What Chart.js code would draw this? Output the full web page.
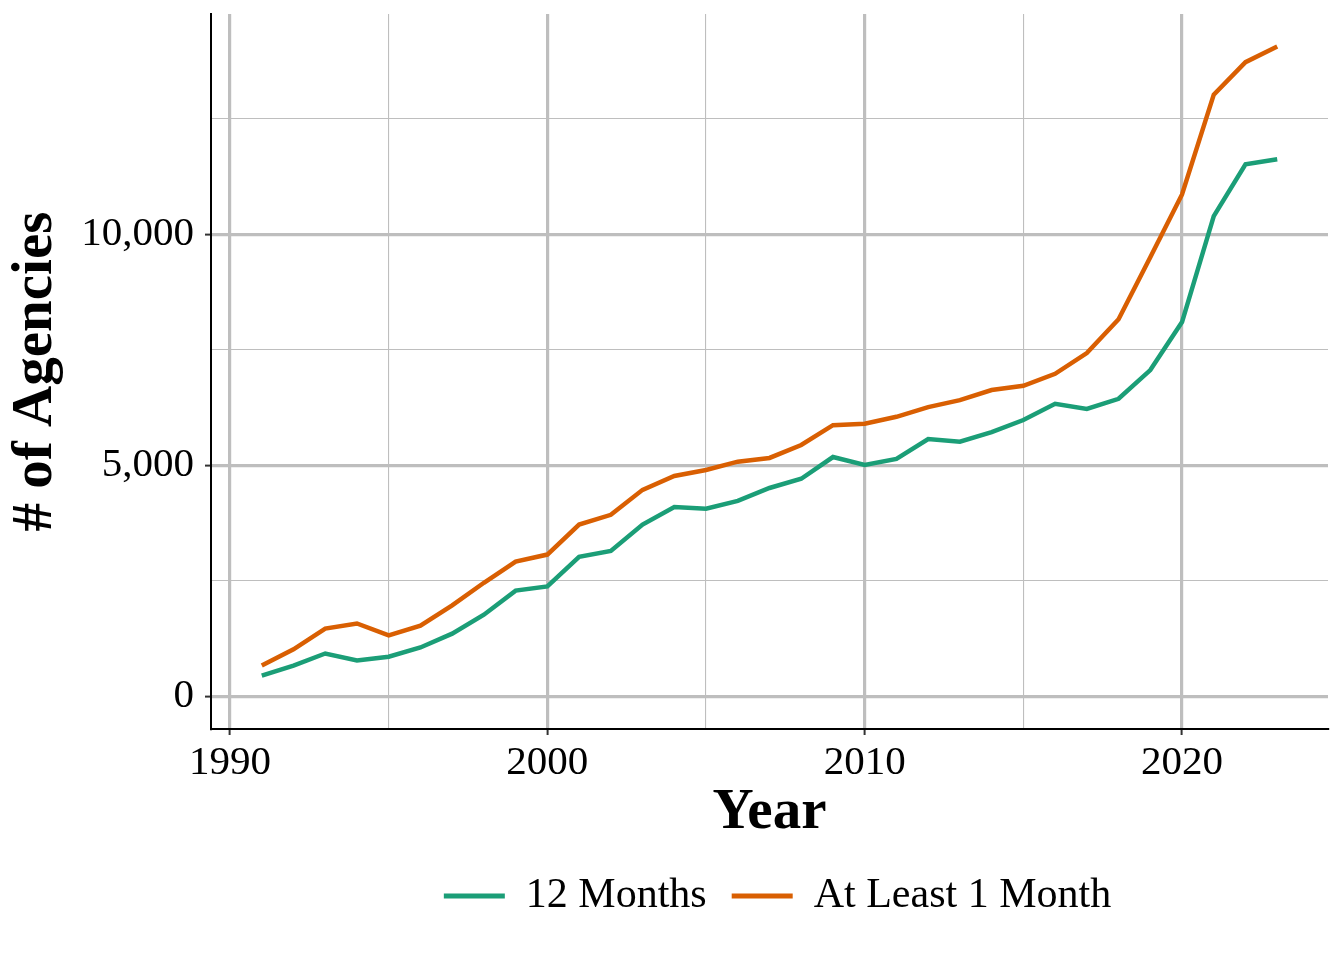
<!DOCTYPE html>
<html>
<head>
<meta charset="utf-8">
<script src="https://cdn.jsdelivr.net/npm/chart.js@4"></script>
<style>
  html, body { margin: 0; padding: 0; background: #ffffff; }
  #chart { display: block; }
</style>
</head>
<body>
<canvas id="chart" width="1344" height="960"></canvas>
<script>
const years = [1991, 1992, 1993, 1994, 1995, 1996, 1997, 1998, 1999, 2000,
  2001, 2002, 2003, 2004, 2005, 2006, 2007, 2008, 2009, 2010,
  2011, 2012, 2013, 2014, 2015, 2016, 2017, 2018, 2019, 2020,
  2021, 2022, 2023];

const twelveMonths = [450, 670, 930, 780, 860, 1060, 1360, 1770, 2290, 2380,
  3020, 3150, 3720, 4100, 4060, 4230, 4510, 4710, 5180, 5010,
  5140, 5570, 5510, 5720, 5980, 6330, 6220, 6440, 7060, 8100,
  10390, 11510, 11620];

const atLeastOneMonth = [670, 1020, 1470, 1580, 1320, 1530, 1970, 2460, 2920, 3070,
  3720, 3930, 4470, 4770, 4900, 5080, 5160, 5440, 5870, 5900,
  6050, 6260, 6410, 6630, 6720, 6980, 7430, 8160, 9500, 10860,
  13020, 13720, 14060];

const seriesNames = ["12 Months", "At Least 1 Month"];
const seriesColors = ["#1B9E77", "#D95F02"];

const xTicks = [1990, 1995, 2000, 2005, 2010, 2015, 2020];
const yTicks = [0, 2500, 5000, 7500, 10000, 12500];

const serif = "'Liberation Serif', 'Times New Roman', Times, serif";
Chart.defaults.font.family = serif;
Chart.defaults.color = "#000000";

function toPoints(vals) {
  return years.map(function (yr, i) { return { x: yr, y: vals[i] }; });
}

// ggplot default expansion: 5% of the data range each side
const xMin = years[0] - (years[years.length - 1] - years[0]) * 0.05;
const xMax = years[years.length - 1] + (years[years.length - 1] - years[0]) * 0.05;
const yTop = Math.max.apply(null, atLeastOneMonth);
const yMin = -yTop * 0.05;
const yMax = yTop * 1.05;

function isMajor(v, step) { return Math.abs(v % step) < 1e-6; }

const gridColor = "#BEBEBE";

// nudge the legend a little right so it sits where ggplot put it
const legendShift = {
  id: "legendShift",
  afterLayout: function (chart) {
    if (chart.legend) {
      chart.legend.left += 8;
      chart.legend.right += 8;
    }
  }
};

new Chart(document.getElementById("chart"), {
  type: "line",
  data: {
    datasets: [
      {
        label: seriesNames[0],
        data: toPoints(twelveMonths),
        borderColor: seriesColors[0],
        backgroundColor: seriesColors[0],
        borderWidth: 4.5,
        pointRadius: 0,
        tension: 0
      },
      {
        label: seriesNames[1],
        data: toPoints(atLeastOneMonth),
        borderColor: seriesColors[1],
        backgroundColor: seriesColors[1],
        borderWidth: 4.5,
        pointRadius: 0,
        tension: 0
      }
    ]
  },
  plugins: [legendShift],
  options: {
    responsive: false,
    animation: false,
    layout: { padding: { top: 14, right: 16, left: 0, bottom: 33 } },
    plugins: {
      tooltip: { enabled: false },
      legend: {
        position: "bottom",
        fullSize: false,
        labels: {
          usePointStyle: true,
          pointStyle: "line",
          pointStyleWidth: 61,
          padding: 25,
          color: "#000000",
          font: { size: 42, family: serif },
          generateLabels: function (chart) {
            const items = Chart.defaults.plugins.legend.labels.generateLabels(chart);
            items.forEach(function (it) { it.lineWidth = 5; it.pointStyle = "line"; });
            return items;
          }
        }
      }
    },
    scales: {
      x: {
        type: "linear",
        min: xMin,
        max: xMax,
        afterBuildTicks: function (scale) {
          scale.ticks = xTicks.map(function (v) { return { value: v }; });
        },
        afterFit: function (scale) {
          scale.height = 121;
          scale.paddingLeft = 0;
          scale.paddingRight = 0;
        },
        border: { display: true, color: "#000000", width: 2 },
        grid: {
          color: gridColor,
          lineWidth: function (ctx) { return isMajor(ctx.tick.value, 10) ? 3.2 : 1.1; },
          tickLength: 6,
          tickWidth: 2,
          tickColor: function (ctx) { return isMajor(ctx.tick.value, 10) ? "#333333" : "rgba(0,0,0,0)"; }
        },
        ticks: {
          autoSkip: false,
          maxRotation: 0,
          padding: 4,
          color: "#000000",
          font: { size: 41 },
          callback: function (v) { return isMajor(v, 10) ? String(v) : ""; }
        },
        title: {
          display: true,
          text: "Year",
          color: "#000000",
          font: { size: 57, weight: "bold", family: serif },
          padding: { top: 0, bottom: 3 }
        }
      },
      y: {
        type: "linear",
        min: yMin,
        max: yMax,
        afterBuildTicks: function (scale) {
          scale.ticks = yTicks.map(function (v) { return { value: v }; });
        },
        afterFit: function (scale) {
          scale.width = 211;
          scale.paddingTop = 0;
          scale.paddingBottom = 0;
        },
        border: { display: true, color: "#000000", width: 2 },
        grid: {
          color: gridColor,
          lineWidth: function (ctx) { return isMajor(ctx.tick.value, 5000) ? 3.2 : 1.1; },
          tickLength: 6,
          tickWidth: 2,
          tickColor: function (ctx) { return isMajor(ctx.tick.value, 5000) ? "#333333" : "rgba(0,0,0,0)"; }
        },
        ticks: {
          padding: 11,
          color: "#000000",
          font: { size: 41 },
          callback: function (v) { return isMajor(v, 5000) ? v.toLocaleString("en-US") : ""; }
        },
        title: {
          display: true,
          text: "# of Agencies",
          color: "#000000",
          font: { size: 57, weight: "bold", family: serif },
          padding: { top: 2, bottom: 0 }
        }
      }
    }
  }
});
</script>
</body>
</html>
